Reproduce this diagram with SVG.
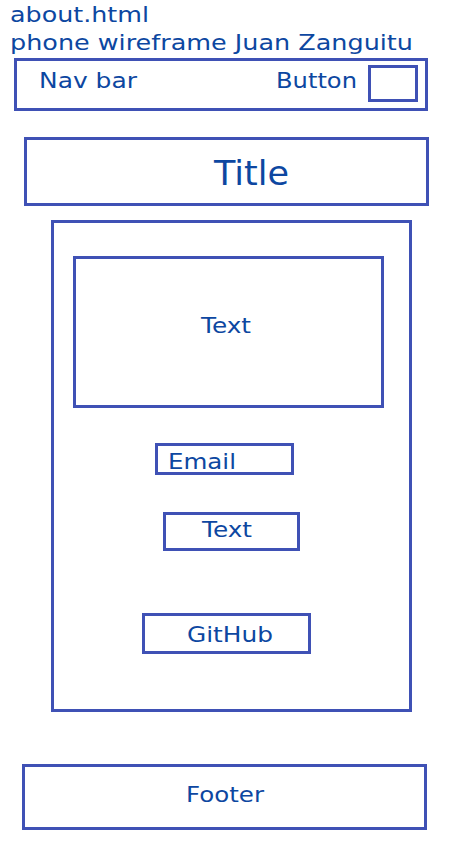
<svg xmlns="http://www.w3.org/2000/svg" width="450" height="844" viewBox="0 0 450 844">
<style>
.box{fill:#fff;stroke:#3f51b5;stroke-width:3}
text{font-family:"DejaVu Sans","Noto Sans",sans-serif;fill:#0d47a1}
.lbl{font-size:22px}
</style>
<rect width="450" height="844" fill="#fff"/>
<g id="header">
<text x="10" y="22" class="lbl" textLength="139" lengthAdjust="spacingAndGlyphs">about.html</text>
<text x="10" y="50" class="lbl" textLength="403" lengthAdjust="spacingAndGlyphs">phone wireframe Juan Zanguitu</text>
</g>
<g id="navbar">
<rect class="box" x="15.5" y="59.5" width="411" height="50"/>
<text x="39" y="88" class="lbl" textLength="98" lengthAdjust="spacingAndGlyphs">Nav bar</text>
<text x="276" y="88" class="lbl" textLength="81" lengthAdjust="spacingAndGlyphs">Button</text>
</g>
<g id="button">
<rect class="box" x="369.5" y="66.5" width="47" height="34"/>
</g>
<g id="title">
<rect class="box" x="25.5" y="138.5" width="402" height="66"/>
<text x="214" y="185" style="font-size:33px" textLength="75" lengthAdjust="spacingAndGlyphs">Title</text>
</g>
<g id="container">
<rect class="box" x="52.5" y="221.5" width="358" height="489"/>
</g>
<g id="textblock">
<rect class="box" x="74.5" y="257.5" width="308" height="149"/>
<text x="201" y="333" class="lbl" textLength="50" lengthAdjust="spacingAndGlyphs">Text</text>
</g>
<g id="email">
<rect class="box" x="156.5" y="444.5" width="136" height="29"/>
<text x="168" y="469" class="lbl" textLength="68" lengthAdjust="spacingAndGlyphs">Email</text>
</g>
<g id="text2">
<rect class="box" x="164.5" y="513.5" width="134" height="36"/>
<text x="202" y="537" class="lbl" textLength="50" lengthAdjust="spacingAndGlyphs">Text</text>
</g>
<g id="github">
<rect class="box" x="143.5" y="614.5" width="166" height="38"/>
<text x="187" y="642" class="lbl" textLength="86" lengthAdjust="spacingAndGlyphs">GitHub</text>
</g>
<g id="footer">
<rect class="box" x="23.5" y="765.5" width="402" height="63"/>
<text x="186" y="802" class="lbl" textLength="78" lengthAdjust="spacingAndGlyphs">Footer</text>
</g>
<g id="connectors"></g>
</svg>
